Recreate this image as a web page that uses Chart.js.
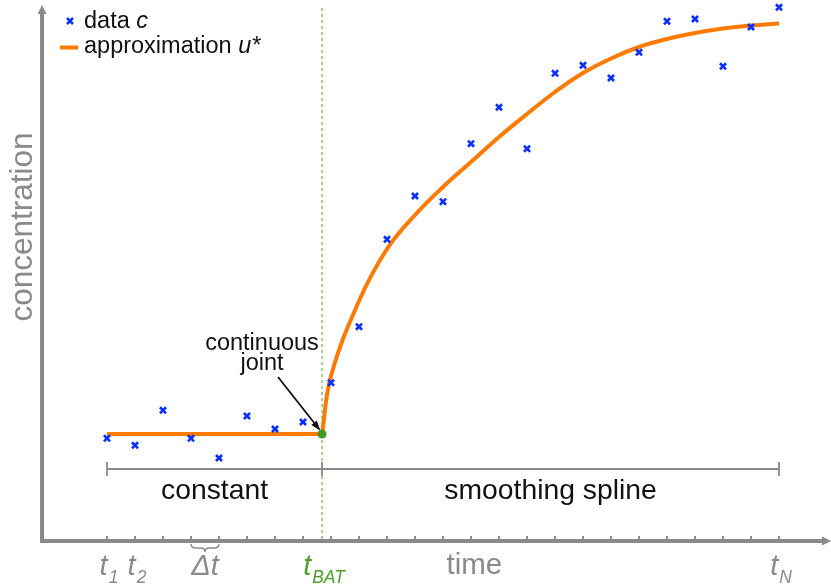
<!DOCTYPE html>
<html><head><meta charset="utf-8">
<script src="https://cdn.jsdelivr.net/npm/chart.js@4.4.1/dist/chart.umd.min.js"></script>
<style>html,body{margin:0;padding:0;background:#fff;}#wrap{width:831px;height:587px;}</style>
</head><body><div id="wrap"><canvas id="c" width="831" height="587"></canvas></div>
<script>
// time index of samples t1..tN
const timeIndex = [1,2,3,4,5,6,7,8,9,10,11,12,13,14,15,16,17,18,19,20,21,22,23,24,25];
// measured concentration c (arbitrary units, 0 = time axis)
const dataC = [102.7,95.7,130.7,102.7,83,125,112,119,158.3,214.3,301.7,345,339.3,397.3,433.7,392.3,467.7,475.7,463,488.7,519.7,522,474.7,514,533.7];
// bolus arrival time and constant baseline level
const T_BAT = 8.68;
const constLevel = 107;
// smoothing spline part of approximation u*
const splineT = [8.68,9,10,11,12,13,14,15,16,17,18,19,20,21,22,23,24,25];
const splineU = [107,165,240,292,326,354,379,404,427,449,468,482.5,494,502,508,512.5,515.5,517.5];
// axis tick labels
const tickLabels = [
  {t:1, main:'t', sub:'1', color:'#8a8a8a'},
  {t:2, main:'t', sub:'2', color:'#8a8a8a'},
  {t:4.5, main:'Δt', sub:'', color:'#8a8a8a'},
  {t:T_BAT, main:'t', sub:'BAT', color:'#4ea12a'},
  {t:25, main:'t', sub:'N', color:'#8a8a8a'}
];
const xTitle = 'time', yTitle = 'concentration';
const segLabels = ['constant','smoothing spline'];
const legendLabels = [['data ','c'],['approximation ','u*']];

const GRAY = '#8a8a8a', ORANGE = '#ff7a00', BLUE = '#0a30ff', GREEN = '#4ea12a';

const decor = {
  id:'decor',
  beforeDatasetsDraw(chart){
    const ctx = chart.ctx, xs = chart.scales.x, ys = chart.scales.y;
    const X = v=>xs.getPixelForValue(v), Y = v=>ys.getPixelForValue(v);
    const y0 = Y(0), xL = X(-1.32), xR = chart.width, yT = 5;
    ctx.save();
    // green dashed t_BAT line
    ctx.strokeStyle = '#6bb84a'; ctx.lineWidth = 1.2; ctx.setLineDash([3,3]);
    ctx.beginPath(); ctx.moveTo(X(T_BAT), yT+3); ctx.lineTo(X(T_BAT), y0); ctx.stroke();
    ctx.setLineDash([]);
    // axes
    ctx.strokeStyle = GRAY; ctx.fillStyle = GRAY; ctx.lineWidth = 4;
    ctx.beginPath(); ctx.moveTo(xL, yT+6); ctx.lineTo(xL, y0); ctx.lineTo(xR-6, y0); ctx.stroke();
    ctx.beginPath(); ctx.moveTo(xL, yT); ctx.lineTo(xL-4.5, yT+9); ctx.lineTo(xL+4.5, yT+9); ctx.closePath(); ctx.fill();
    ctx.beginPath(); ctx.moveTo(xR, y0); ctx.lineTo(xR-9, y0-4.5); ctx.lineTo(xR-9, y0+4.5); ctx.closePath(); ctx.fill();
    // ticks
    ctx.lineWidth = 2;
    timeIndex.forEach(t=>{ctx.beginPath(); ctx.moveTo(X(t), y0-2); ctx.lineTo(X(t), y0-5); ctx.stroke();});
    // range bars
    const yb = Y(72);
    ctx.lineWidth = 1.8;
    ctx.beginPath(); ctx.moveTo(X(1), yb); ctx.lineTo(X(25), yb); ctx.stroke();
    [1, T_BAT, 25].forEach(t=>{ctx.beginPath(); ctx.moveTo(X(t), yb-7); ctx.lineTo(X(t), yb+7); ctx.stroke();});
    // brace for Δt
    const b1 = X(4), b2 = X(5), bm = (b1+b2)/2, by = y0+3;
    ctx.lineWidth = 1.5;
    ctx.beginPath();
    ctx.moveTo(b1, by); ctx.quadraticCurveTo(b1, by+4, b1+5, by+4);
    ctx.lineTo(bm-4, by+4); ctx.quadraticCurveTo(bm, by+4, bm, by+8);
    ctx.quadraticCurveTo(bm, by+4, bm+4, by+4);
    ctx.lineTo(b2-5, by+4); ctx.quadraticCurveTo(b2, by+4, b2, by);
    ctx.stroke();
    ctx.restore();
  },
  afterDatasetsDraw(chart){
    const ctx = chart.ctx, xs = chart.scales.x, ys = chart.scales.y;
    const X = v=>xs.getPixelForValue(v), Y = v=>ys.getPixelForValue(v);
    const y0 = Y(0);
    ctx.save();
    const F = '"Liberation Sans", Arial, sans-serif';
    // tick labels
    tickLabels.forEach(l=>{
      ctx.font = 'italic 29px '+F; const wm = ctx.measureText(l.main).width;
      ctx.font = 'italic 17.5px '+F; const ws = ctx.measureText(l.sub).width;
      const total = wm + ws + (l.sub?1:0);
      let x0 = X(l.t) - total/2 + (l.sub? 2 : 0);
      ctx.fillStyle = l.color; ctx.textAlign='left'; ctx.textBaseline='alphabetic';
      ctx.font = 'italic 29px '+F; ctx.fillText(l.main, x0, y0+34);
      ctx.font = 'italic 17.5px '+F; ctx.fillText(l.sub, x0+wm+1, y0+42);
    });
    // axis titles
    ctx.fillStyle = GRAY; ctx.font = '29.5px '+F; ctx.textAlign='center';
    ctx.fillText(xTitle, X(14.12), y0+33);
    ctx.save(); ctx.translate(32, Y(314)); ctx.rotate(-Math.PI/2);
    ctx.font = '31.5px '+F; ctx.fillText(yTitle, 0, 0); ctx.restore();
    // segment labels
    ctx.fillStyle = '#111'; ctx.font = '28.3px '+F;
    ctx.fillText(segLabels[0], (X(1)+X(T_BAT))/2, Y(42));
    ctx.fillText(segLabels[1], (X(T_BAT)+X(25))/2, Y(42));
    // continuous joint annotation
    ctx.font = '23.5px '+F;
    ctx.fillText('continuous', 262, Y(191));
    ctx.fillText('joint', 262, Y(171));
    const ax1 = 278, ay1 = Y(164), ax2 = X(T_BAT)-3, ay2 = Y(constLevel)-5;
    ctx.strokeStyle = '#111'; ctx.fillStyle='#111'; ctx.lineWidth = 1.8;
    ctx.beginPath(); ctx.moveTo(ax1, ay1); ctx.lineTo(ax2, ay2); ctx.stroke();
    const ang = Math.atan2(ay2-ay1, ax2-ax1);
    ctx.beginPath(); ctx.moveTo(ax2+2*Math.cos(ang), ay2+2*Math.sin(ang));
    ctx.lineTo(ax2-8*Math.cos(ang)+3.5*Math.sin(ang), ay2-8*Math.sin(ang)-3.5*Math.cos(ang));
    ctx.lineTo(ax2-8*Math.cos(ang)-3.5*Math.sin(ang), ay2-8*Math.sin(ang)+3.5*Math.cos(ang));
    ctx.closePath(); ctx.fill();
    // legend
    ctx.textAlign='left';
    ctx.strokeStyle = BLUE; ctx.lineWidth = 2.5;
    const mx = 70, my = 21, r = 3;
    ctx.beginPath(); ctx.moveTo(mx-r,my-r); ctx.lineTo(mx+r,my+r); ctx.moveTo(mx+r,my-r); ctx.lineTo(mx-r,my+r); ctx.stroke();
    ctx.strokeStyle = ORANGE; ctx.lineWidth = 4;
    ctx.beginPath(); ctx.moveTo(60, 47.5); ctx.lineTo(78, 47.5); ctx.stroke();
    ctx.fillStyle = '#111';
    [28, 53].forEach((b,i)=>{
      ctx.font = '23.5px '+F; ctx.fillText(legendLabels[i][0], 84, b);
      const w = ctx.measureText(legendLabels[i][0]).width;
      ctx.font = 'italic 23.5px '+F; ctx.fillText(legendLabels[i][1], 84+w, b);
    });
    ctx.restore();
  }
};

new Chart(document.getElementById('c'), {
  type:'scatter',
  data:{datasets:[
    {label:'data c', data: timeIndex.map((t,i)=>({x:t,y:dataC[i]})), pointStyle:'crossRot', pointRadius:4.3, borderColor:BLUE, pointBorderWidth:2.6, showLine:false, order:0},
    {label:'joint', data:[{x:T_BAT,y:constLevel}], pointStyle:'circle', pointRadius:4.5, backgroundColor:'#3f9a25', borderColor:'#3f9a25', pointBorderWidth:0, showLine:false, order:0},
    {label:'approximation u*', data:[{x:1,y:constLevel},{x:T_BAT,y:constLevel}], showLine:true, borderColor:ORANGE, borderWidth:4, pointRadius:0, tension:0, order:2},
    {label:'approximation u* spline', data: splineT.map((t,i)=>({x:t,y:splineU[i]})), showLine:true, borderColor:ORANGE, borderWidth:4, pointRadius:0, tension:0.4, order:2}
  ]},
  options:{
    responsive:false, animation:false, devicePixelRatio:1,
    layout:{padding:0, autoPadding:false},
    plugins:{legend:{display:false}, tooltip:{enabled:false}},
    scales:{
      x:{type:'linear', display:false, min:-79/28, max:752/28},
      y:{type:'linear', display:false, min:-46, max:541}
    }
  },
  plugins:[decor]
});
</script></body></html>
